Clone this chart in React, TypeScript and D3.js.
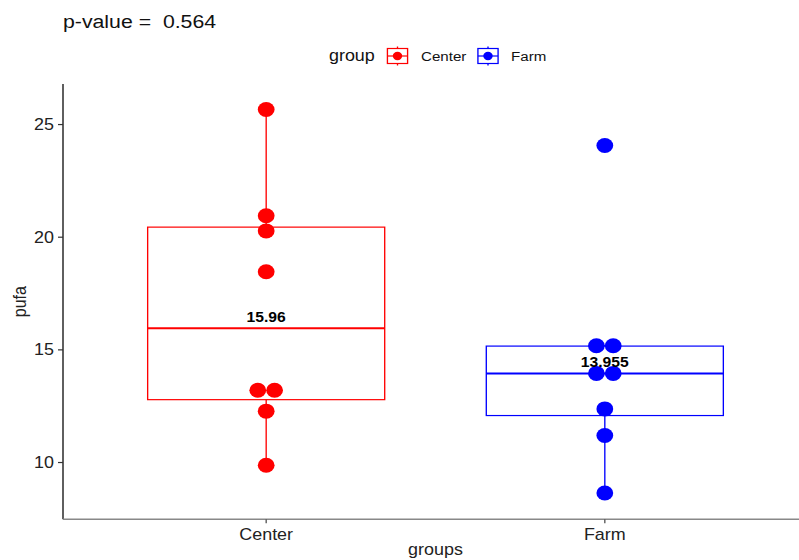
import React from 'react'
import * as d3 from 'd3'

// data
const groups = ['Center', 'Farm']
const centerValues = [9.88, 12.28, 12.96, 13.45, 18.47, 20.28, 20.95, 25.67]
const farmValues = [8.65, 11.2, 12.38, 13.85, 14.06, 15.15, 15.22, 24.07]
const groupColors = ['#FF0000', '#0000FF']
const yTicks = [10, 15, 20, 25]
const pValue = '0.564'

// the picture is a bit stretched sideways, so draw in a narrower box and let the svg stretch it
const SX = 1.12
const W = 799
const H = 560
const VW = W / SX
const FONT = '"Liberation Sans", Arial, Helvetica, sans-serif'

const BINWIDTH = 0.55
const R = 7.5

function boxStats(values: number[]) {
  const s = values.slice().sort(d3.ascending)
  const q1 = d3.quantile(s, 0.25) as number
  const med = d3.quantile(s, 0.5) as number
  const q3 = d3.quantile(s, 0.75) as number
  const iqr = q3 - q1
  const lo = d3.min(s.filter(v => v >= q1 - 1.5 * iqr)) as number
  const hi = d3.max(s.filter(v => v <= q3 + 1.5 * iqr)) as number
  return { q1, med, q3, lo, hi }
}

// dot-density binning like geom_dotplot
function dotBins(values: number[]) {
  const s = values.slice().sort(d3.ascending)
  const bins: number[][] = []
  let cur: number[] = []
  s.forEach(v => {
    if (cur.length && v - cur[0] < BINWIDTH) cur.push(v)
    else {
      if (cur.length) bins.push(cur)
      cur = [v]
    }
  })
  if (cur.length) bins.push(cur)
  return bins.map(b => ({ center: (b[0] + b[b.length - 1]) / 2, count: b.length }))
}

function LegendKey({ x, y, color }: { x: number; y: number; color: string }) {
  return (
    <g>
      <line x1={x} x2={x} y1={y - 9.5} y2={y + 9.5} stroke={color} strokeWidth={1.2} />
      <rect x={x - 9} y={y - 7.5} width={18} height={15} fill="white" stroke={color} strokeWidth={1.2} />
      <line x1={x - 9} x2={x + 9} y1={y} y2={y} stroke={color} strokeWidth={1.2} />
      <circle cx={x} cy={y} r={4.2} fill={color} />
    </g>
  )
}

export default function App() {
  const series = [centerValues, farmValues]

  const x = d3.scalePoint<string>().domain(groups).range([63 / SX, 808 / SX]).padding(0.6)
  const y = d3.scaleLinear().domain([7.48, 26.8]).range([519.3, 84])
  const boxW = x.step() * 0.7

  const left = 63 / SX
  const bottom = y.range()[0]
  const top = y.range()[1]

  return (
    <svg
      width={W}
      height={H}
      viewBox={`0 0 ${VW} ${H}`}
      preserveAspectRatio="none"
      style={{ position: 'absolute', left: 0, top: 0, background: 'white' }}
      fontFamily={FONT}
    >
      <rect x={0} y={0} width={VW} height={H} fill="white" />

      {/* title */}
      <text x={63 / SX} y={28} fontSize={19} fill="#111" style={{ whiteSpace: 'pre' }}>
        {`p-value =  ${pValue}`}
      </text>

      {/* legend */}
      <text x={329 / SX} y={61.5} fontSize={16} fill="#111">group</text>
      <LegendKey x={397.5 / SX} y={56} color={groupColors[0]} />
      <text x={421 / SX} y={61} fontSize={13.5} fill="#111">{groups[0]}</text>
      <LegendKey x={488 / SX} y={56} color={groupColors[1]} />
      <text x={511 / SX} y={61} fontSize={13.5} fill="#111">{groups[1]}</text>

      {/* boxes */}
      {groups.map((g, i) => {
        const st = boxStats(series[i])
        const cx = x(g) as number
        const col = groupColors[i]
        return (
          <g key={g}>
            <line x1={cx} x2={cx} y1={y(st.q3)} y2={y(st.hi)} stroke={col} strokeWidth={1.2} />
            <line x1={cx} x2={cx} y1={y(st.q1)} y2={y(st.lo)} stroke={col} strokeWidth={1.2} />
            <rect
              x={cx - boxW / 2}
              y={y(st.q3)}
              width={boxW}
              height={y(st.q1) - y(st.q3)}
              fill="none"
              stroke={col}
              strokeWidth={1.2}
            />
            <line x1={cx - boxW / 2} x2={cx + boxW / 2} y1={y(st.med)} y2={y(st.med)} stroke={col} strokeWidth={2} />
          </g>
        )
      })}

      {/* dots */}
      {groups.map((g, i) => {
        const cx = x(g) as number
        return dotBins(series[i]).map((b, j) =>
          d3.range(b.count).map(k => (
            <circle
              key={`${g}-${j}-${k}`}
              cx={cx + (k - (b.count - 1) / 2) * R * 2}
              cy={y(b.center)}
              r={R}
              fill={groupColors[i]}
            />
          ))
        )
      })}

      {/* median labels */}
      {groups.map((g, i) => {
        const st = boxStats(series[i])
        return (
          <text
            key={g + 'lab'}
            x={x(g) as number}
            y={y(st.med) - 6}
            textAnchor="middle"
            fontSize={14}
            fontWeight="bold"
            fill="#000"
          >
            {String(Math.round(st.med * 1000) / 1000)}
          </text>
        )
      })}

      {/* y axis */}
      <line x1={left} x2={left} y1={top} y2={bottom} stroke="#333" strokeWidth={1.4} />
      {yTicks.map(t => (
        <g key={t}>
          <line x1={left - 5 / SX} x2={left} y1={y(t)} y2={y(t)} stroke="#333" strokeWidth={1.2} />
          <text x={left - 9 / SX} y={y(t) + 5.5} textAnchor="end" fontSize={16} fill="#222">
            {t}
          </text>
        </g>
      ))}

      {/* x axis */}
      <line x1={left} x2={VW + 10} y1={bottom} y2={bottom} stroke="#888" strokeWidth={1.5} />
      {groups.map(g => (
        <g key={g + 'tick'}>
          <line x1={x(g) as number} x2={x(g) as number} y1={bottom} y2={bottom + 4} stroke="#555" strokeWidth={1.2} />
          <text x={x(g) as number} y={540} textAnchor="middle" fontSize={16} fill="#222">
            {g}
          </text>
        </g>
      ))}

      {/* axis titles */}
      <text x={(63 + 808) / 2 / SX} y={555} textAnchor="middle" fontSize={16} fill="#222">groups</text>
      <text
        transform={`translate(${26 / SX},${(top + bottom) / 2}) rotate(-90)`}
        textAnchor="middle"
        fontSize={16}
        fill="#222"
      >
        pufa
      </text>
    </svg>
  )
}
